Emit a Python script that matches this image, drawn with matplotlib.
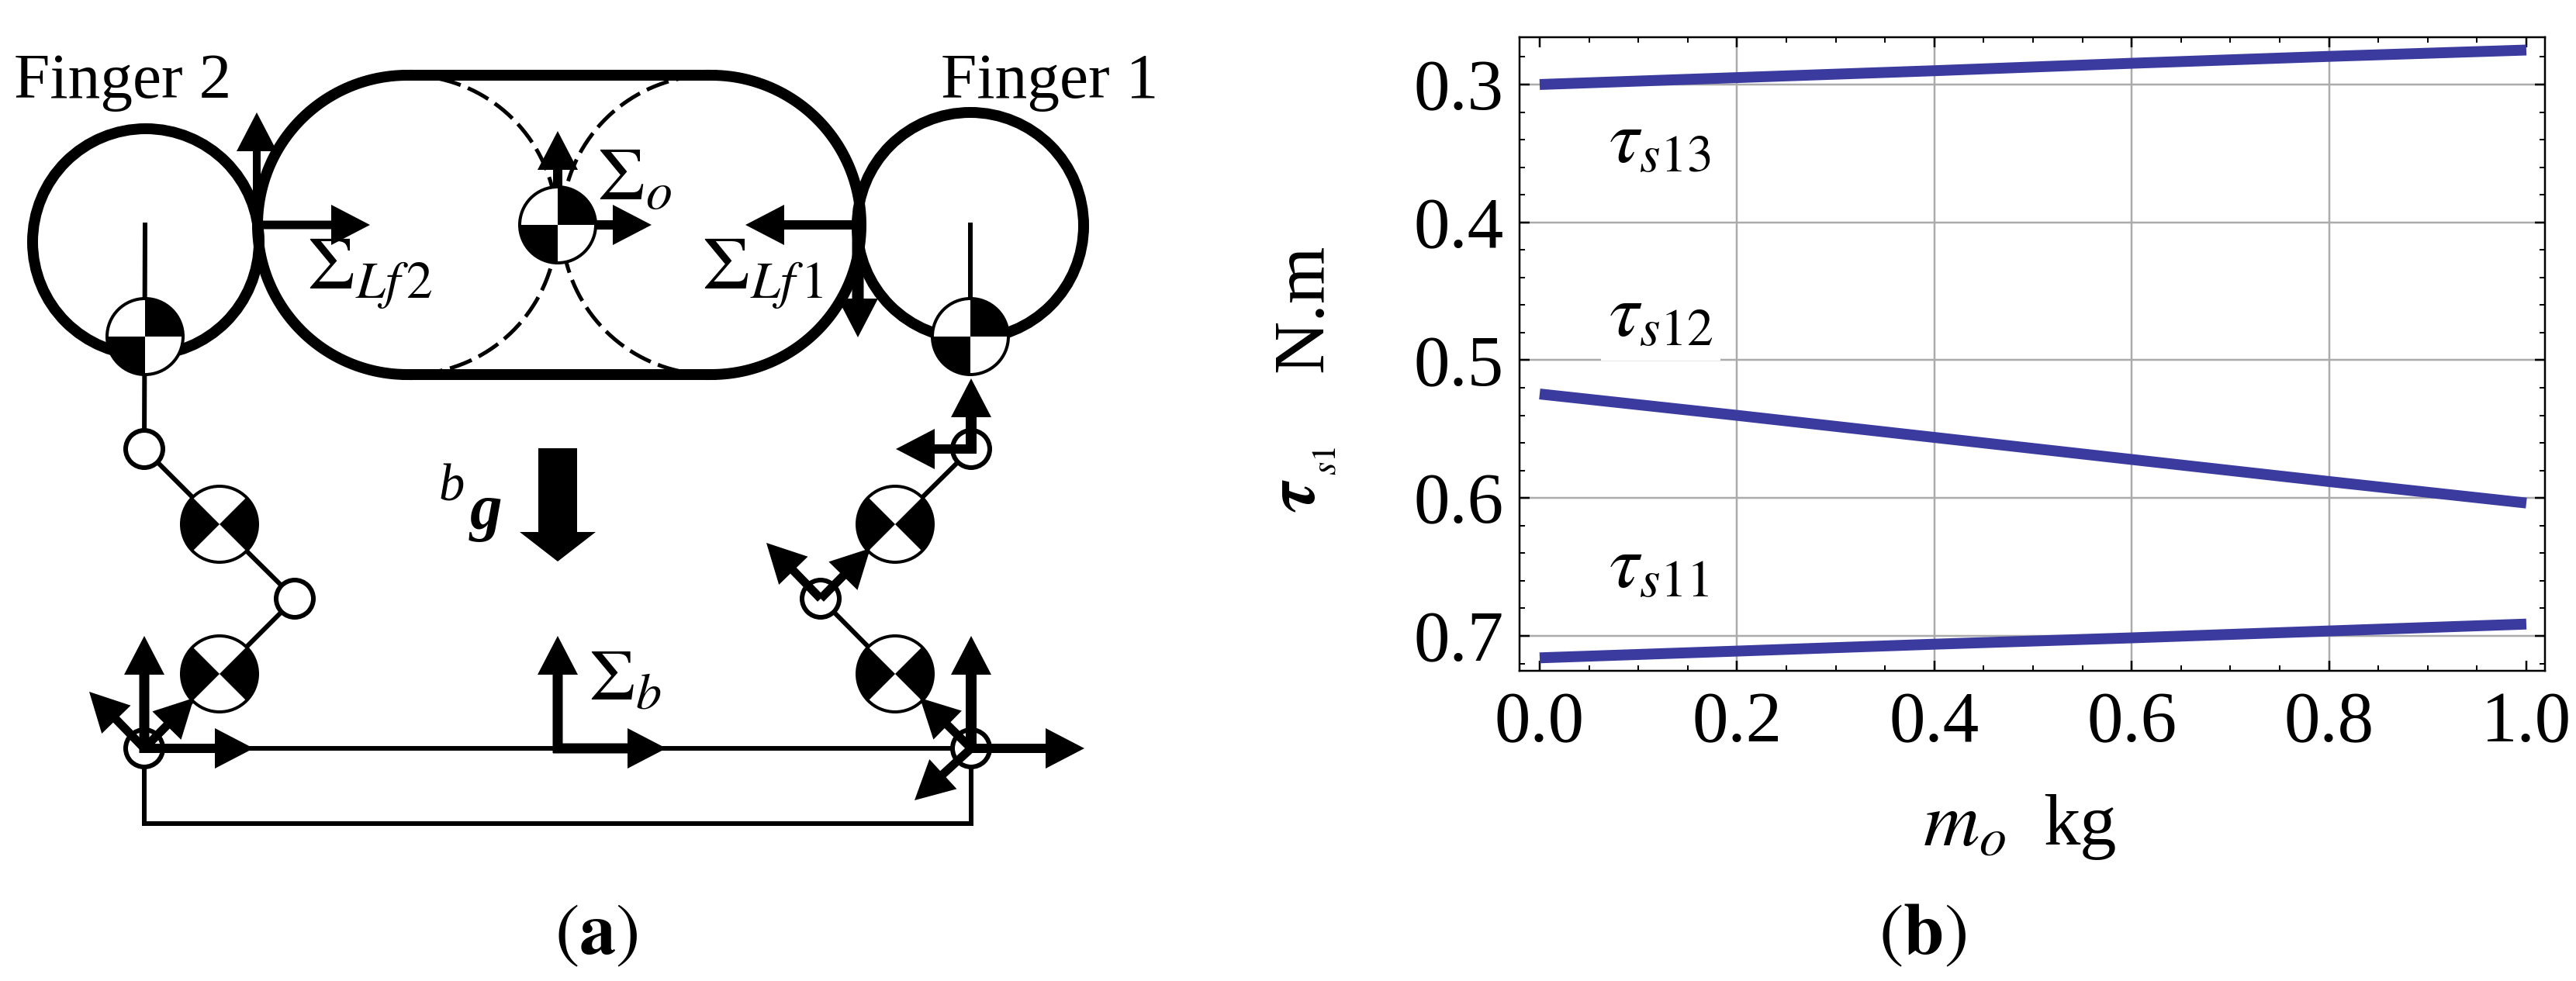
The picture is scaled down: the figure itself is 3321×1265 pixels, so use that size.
import numpy as np
import matplotlib
matplotlib.use("Agg")
import matplotlib.pyplot as plt
from matplotlib.patches import Circle, Polygon, Wedge
from matplotlib.ticker import MultipleLocator, FormatStrFormatter

plt.rcParams["font.family"] = ["Liberation Serif", "DejaVu Serif"]
plt.rcParams["mathtext.fontset"] = "stix"

WIDTH, HEIGHT = 3321, 1265
BLUE = "#3B3B9F"
GRID = "#ABABAB"

# panel (b) values
m_o = [0.0, 0.2, 0.4, 0.6, 0.8, 1.0]
tau_s13 = [0.300, 0.295, 0.290, 0.2846, 0.2796, 0.275]
tau_s12 = [0.5245, 0.540, 0.556, 0.572, 0.588, 0.6036]
tau_s11 = [0.7159, 0.711, 0.706, 0.7014, 0.6964, 0.6914]
x_ticks = [0.0, 0.2, 0.4, 0.6, 0.8, 1.0]
y_ticks = [0.3, 0.4, 0.5, 0.6, 0.7]
curve_labels = [
    (0.07, 0.357, r"$\tau_{s13}$"),
    (0.07, 0.483, r"$\tau_{s12}$"),
    (0.07, 0.665, r"$\tau_{s11}$"),
]

# panel (a) geometry, in image pixels
finger_circles = [(188, 312, 146), (1251, 291, 146)]
stadium_centers = [525, 917]
stadium_y = 290
stadium_r = 193
quad_coms = [(187, 434), (1251, 434), (719, 290)]
cross_coms = [(283, 676), (283, 869), (1154, 676), (1154, 869)]
joints = [(186, 579), (380, 772), (186, 965), (1252, 579), (1058, 772), (1252, 965)]
links = [
    [(187, 290), (186, 579), (283, 676), (380, 772), (283, 869), (186, 965)],
    [(1251, 290), (1251, 434)],
    [(1252, 579), (1154, 676), (1058, 772), (1154, 869), (1252, 965)],
    [(186, 965), (1252, 965)],
    [(186, 965), (186, 1062), (1252, 1062), (1252, 965)],
]
# start x, start y, tip x, tip y, shaft width
arrows = [
    (186, 971, 186, 820, 13),
    (180, 965, 327, 965, 12),
    (186, 965, 115, 892, 11),
    (186, 965, 250, 900, 11),
    (719, 971, 719, 820, 13),
    (713, 965, 859, 965, 13),
    (1252, 971, 1252, 820, 14),
    (1245, 965, 1398, 965, 12),
    (1252, 965, 1186, 900, 11),
    (1252, 965, 1179, 1032, 11),
    (1058, 772, 988, 700, 11),
    (1058, 772, 1122, 707, 11),
    (1252, 585, 1252, 488, 14),
    (1258, 579, 1155, 579, 12),
]
frame_arrows = [
    (331, 290, 331, 145, 10),
    (335, 290, 477, 290, 11),
    (719, 290, 719, 169, 12),
    (719, 290, 840, 290, 12),
    (1106, 290, 961, 290, 12),
    (1106, 290, 1106, 435, 15),
]
gravity_arrow = (719, 578, 719, 724, 50)


def px(v):
    return v * 0.72


def arc_xy(cx, cy, r, a0, a1):
    t = np.radians(np.linspace(a0, a1, 200))
    return cx + r * np.cos(t), cy + r * np.sin(t)


def draw_arrow(ax, arrow, zorder, head_w=52, head_l=50):
    x0, y0, x1, y1, shaft = arrow
    d = np.array([x1 - x0, y1 - y0], dtype=float)
    d = d / np.hypot(*d)
    n = np.array([-d[1], d[0]])
    start = np.array([x0, y0], dtype=float)
    tip = np.array([x1, y1], dtype=float)
    base = tip - d * head_l
    pts = [
        start + n * shaft / 2,
        base + n * shaft / 2,
        base + n * head_w / 2,
        tip,
        base - n * head_w / 2,
        base - n * shaft / 2,
        start - n * shaft / 2,
    ]
    ax.add_patch(Polygon(pts, closed=True, fc="black", ec="none", zorder=zorder))


def draw_com(ax, x, y, black_spans):
    r = 49
    ax.add_patch(Circle((x, y), r, fc="white", ec="none", zorder=4))
    for a0, a1 in black_spans:
        ax.add_patch(Wedge((x, y), r, a0, a1, fc="black", ec="none", zorder=4.1))
    ax.add_patch(Circle((x, y), r, fc="none", ec="black", lw=px(4), zorder=4.2))


fig = plt.figure(figsize=(WIDTH / 100, HEIGHT / 100), dpi=100)

# panel (b)
ax = fig.add_axes([1959 / WIDTH, 1 - 865 / HEIGHT, (3281 - 1959) / WIDTH, (865 - 48) / HEIGHT])
for series in [tau_s13, tau_s12, tau_s11]:
    ax.plot(m_o, series, color=BLUE, lw=px(14), solid_capstyle="butt", zorder=3)
ax.set_xlim(-0.0204, 1.0189)
ax.set_ylim(0.7253, 0.2657)
ax.set_xticks(x_ticks)
ax.set_yticks(y_ticks)
ax.xaxis.set_major_formatter(FormatStrFormatter("%.1f"))
ax.yaxis.set_major_formatter(FormatStrFormatter("%.1f"))
ax.xaxis.set_minor_locator(MultipleLocator(0.05))
ax.yaxis.set_minor_locator(MultipleLocator(0.02))
ax.tick_params(which="major", direction="in", top=True, right=True, length=px(13), width=px(2.5),
               labelsize=67, pad=px(26))
ax.tick_params(which="minor", direction="in", top=True, right=True, length=px(7), width=px(2))
ax.tick_params(axis="y", which="major", pad=px(20))
for v in x_ticks[1:-1]:
    ax.axvline(v, color=GRID, lw=px(2.5), zorder=1)
for v in y_ticks:
    ax.axhline(v, color=GRID, lw=px(2.5), zorder=1)
for spine in ax.spines.values():
    spine.set_linewidth(px(2.5))
for x, y, label in curve_labels:
    ax.text(x, y, label, fontsize=70, ha="left", va="baseline", zorder=2,
            bbox=dict(fc="white", ec="none", pad=px(10)) if "12" in label else None)

# panel (a) and the loose text, in image pixels
dia = fig.add_axes([0, 0, 1, 1], facecolor="none")
dia.set_xlim(0, WIDTH)
dia.set_ylim(HEIGHT, 0)
dia.axis("off")

for cx, cy, r in finger_circles:
    dia.add_patch(Circle((cx, cy), r, fc="none", ec="black", lw=px(14), zorder=2))

c_left, c_right = stadium_centers
x, y = arc_xy(c_left, stadium_y, stadium_r, 90, 270)
dia.plot(x, y, color="black", lw=px(14), zorder=2)
x, y = arc_xy(c_right, stadium_y, stadium_r, -90, 90)
dia.plot(x, y, color="black", lw=px(14), zorder=2)
dia.plot([c_left, c_right], [stadium_y - stadium_r] * 2, color="black", lw=px(14), zorder=2)
dia.plot([c_left, c_right], [stadium_y + stadium_r] * 2, color="black", lw=px(14), zorder=2)
x, y = arc_xy(c_left, stadium_y, stadium_r, -78, 78)
dia.plot(x, y, color="black", lw=px(5), ls=(0, (6, 2)), zorder=2)
x, y = arc_xy(c_right, stadium_y, stadium_r, 102, 258)
dia.plot(x, y, color="black", lw=px(5), ls=(0, (6, 2)), zorder=2)

for path in links:
    xs, ys = zip(*path)
    dia.plot(xs, ys, color="black", lw=px(6), solid_joinstyle="miter", zorder=2.5)

for x, y in joints:
    dia.add_patch(Circle((x, y), 24, fc="white", ec="black", lw=px(6), zorder=3))

for x, y in quad_coms:
    draw_com(dia, x, y, [(270, 360), (90, 180)])
for x, y in cross_coms:
    draw_com(dia, x, y, [(135, 225), (-45, 45)])

for arrow in frame_arrows:
    draw_arrow(dia, arrow, 3.5)
for arrow in arrows:
    draw_arrow(dia, arrow, 5)
draw_arrow(dia, gravity_arrow, 5, head_w=98, head_l=38)

dia.text(18, 126, "Finger 2", fontsize=60, ha="left", va="baseline")
dia.text(1213, 126, "Finger 1", fontsize=60, ha="left", va="baseline")
dia.text(396, 372, r"$\Sigma_{Lf\,2}$", fontsize=70, ha="left", va="baseline", zorder=6)
dia.text(905, 372, r"$\Sigma_{Lf\,1}$", fontsize=70, ha="left", va="baseline", zorder=6)
dia.text(770, 257, r"$\Sigma_{o}$", fontsize=70, ha="left", va="baseline", zorder=6)
dia.text(759, 902, r"$\Sigma_{b}$", fontsize=68, ha="left", va="baseline", zorder=6)
dia.text(566, 646, "b", fontsize=48, style="italic", ha="left", va="baseline")
dia.text(606, 681, "g", fontsize=60, style="italic", weight="bold", ha="left", va="baseline")
dia.text(769, 1230, r"$(\mathbf{a})$", fontsize=68, ha="center", va="baseline")
dia.text(2478, 1230, r"$(\mathbf{b})$", fontsize=68, ha="center", va="baseline")

# axis titles
dia.text(2479, 1089, r"$m_o$", fontsize=72, ha="left", va="baseline")
dia.text(2634, 1089, "kg", fontsize=68, ha="left", va="baseline")
dia.text(1714, 617, r"$\mathbfit{\tau}$", fontsize=66, rotation=90, ha="right", va="bottom",
         rotation_mode="anchor")
dia.text(1730, 576, "$s1$", fontsize=32, rotation=90, ha="right", va="bottom",
         rotation_mode="anchor")
dia.text(1704, 480, "N.m", fontsize=68, rotation=90, ha="left", va="baseline",
         rotation_mode="anchor")

fig.savefig("out.png", dpi=100)
